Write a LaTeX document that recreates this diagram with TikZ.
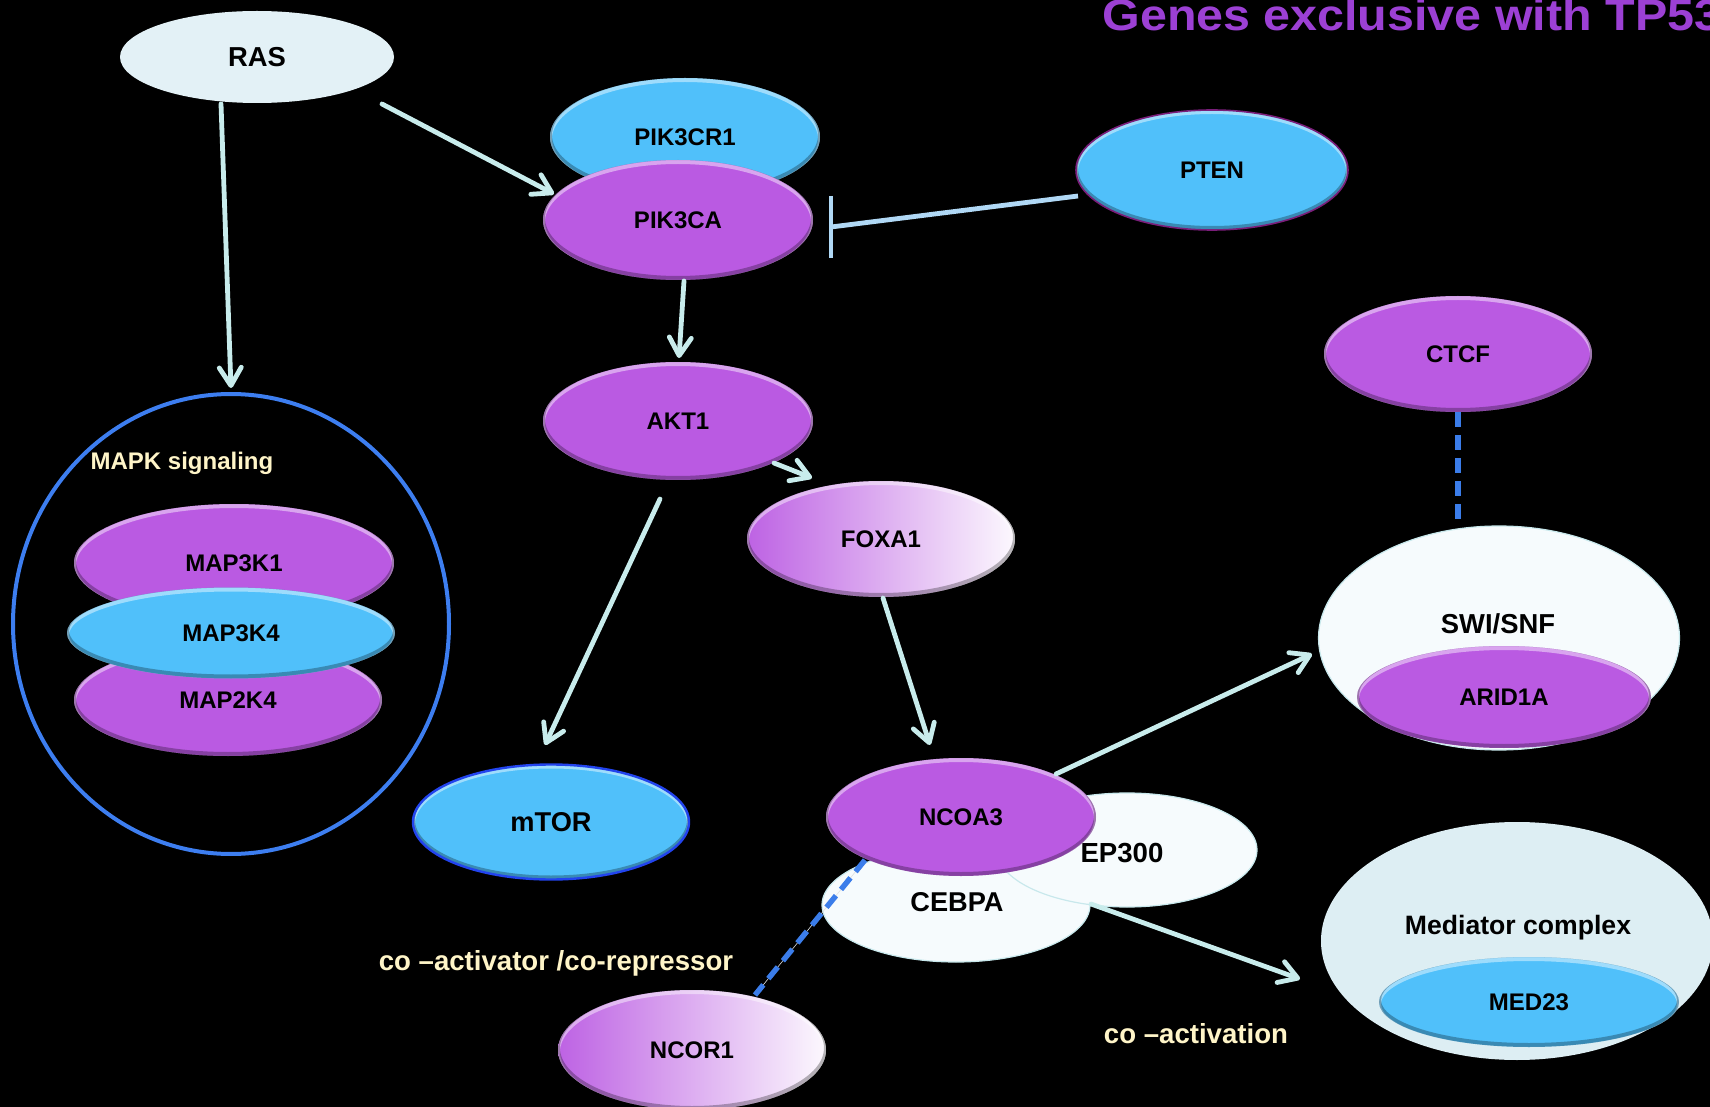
\documentclass[tikz,border=0pt]{standalone}
\usepackage{fontspec}
\setmainfont{Liberation Sans}
\usetikzlibrary{shapes.geometric,arrows.meta,calc}

\definecolor{purp}{RGB}{186,90,226}
\definecolor{blu}{RGB}{80,192,250}
\definecolor{rasfill}{RGB}{227,241,246}
\definecolor{whfill}{RGB}{246,251,253}
\definecolor{whedge}{RGB}{200,232,236}
\definecolor{medfill}{RGB}{221,238,243}
\definecolor{actc}{RGB}{200,236,236}
\definecolor{inhc}{RGB}{176,216,245}
\definecolor{dashblue}{RGB}{59,125,234}
\definecolor{mapkblue}{RGB}{61,126,240}
\definecolor{labyel}{RGB}{255,245,200}
\definecolor{titlec}{RGB}{156,64,212}
\definecolor{mtoredge}{RGB}{34,68,238}
\definecolor{ptenedge}{RGB}{122,30,122}

\tikzset{
  % light rim on top, soft shadow rim at the bottom
  bevel/.style={path picture={
    \draw[white, opacity=0.45, line width=2pt]
      let \p1=($(path picture bounding box.north east)-(path picture bounding box.center)$) in
      ([yshift=-1pt]path picture bounding box.center) ellipse [x radius=\x1, y radius=\y1];
    \draw[black, opacity=0.28, line width=2pt]
      let \p1=($(path picture bounding box.north east)-(path picture bounding box.center)$) in
      ([yshift=1pt]path picture bounding box.center) ellipse [x radius=\x1, y radius=\y1];
  }},
  sz/.style 2 args={minimum width=#1*0.5pt, minimum height=#2*0.5pt},
  gene/.style={ellipse, inner sep=0pt, text=black,
    font=\fontsize{12pt}{14pt}\selectfont\bfseries, bevel},
  pg/.style={gene, fill=purp},
  bl/.style={gene, fill=blu},
  fade/.style={gene, left color=purp!95!white, right color=white!96!purp},
  wh/.style={ellipse, inner sep=0pt, fill=whfill, draw=whedge, line width=0.6pt,
    text=black, font=\fontsize{13.6pt}{16pt}\selectfont\bfseries},
  act/.style={draw=actc, line width=2.4pt, line cap=round,
    -{Straight Barb[length=9pt,width=11pt,round]}},
  inh/.style={draw=inhc, line width=2.4pt},
  assoc/.style={draw=dashblue, line width=2.7pt, dash pattern=on 7.5pt off 4pt},
  lab/.style={text=labyel, inner sep=0pt,
    font=\fontsize{13.8pt}{16pt}\selectfont\bfseries},
}

\begin{document}
\begin{tikzpicture}[x=0.5pt,y=-0.5pt]
\fill[black] (0,0) rectangle (1710,1107);
\useasboundingbox (0,0) rectangle (1710,1107);
\clip (0,0) rectangle (1710,1107);

% title
\node[anchor=base west, inner sep=0pt, text=titlec, xscale=1.1,
  font=\fontsize{22pt}{25pt}\selectfont\bfseries] (title) at (1102,31) {Genes exclusive with TP53};

% MAPK signaling module
\node[ellipse, sz={436}{460}, draw=mapkblue, line width=2pt] (mapk) at (231,624) {};
\node[lab, font=\fontsize{12pt}{14pt}\selectfont\bfseries] (mapklab) at (182,463) {MAPK signaling};
\node[pg, sz={320}{118}] (MAP3K1) at (234,563) {MAP3K1};
\node[pg, sz={308}{112}] (MAP2K4) at (228,700) {MAP2K4};
\node[bl, sz={328}{91}] (MAP3K4) at (231,633) {MAP3K4};

% PI3K / AKT branch
\node[ellipse, inner sep=0pt, sz={274}{92}, fill=rasfill,
  font=\fontsize{13.7pt}{16pt}\selectfont\bfseries] (RAS) at (257,57) {RAS};
\node[bl, sz={270}{118}] (PIK3CR1) at (685,137) {PIK3CR1};
\node[pg, sz={270}{120}] (PIK3CA) at (678,220) {PIK3CA};
\node[bl, sz={272}{120}, draw=ptenedge, line width=0.8pt] (PTEN) at (1212,170) {PTEN};
\node[pg, sz={270}{118}] (AKT1) at (678,421) {AKT1};
\node[fade, sz={268}{116}] (FOXA1) at (881,539) {FOXA1};
\node[bl, sz={276}{115}, draw=mtoredge, line width=1.2pt,
  font=\fontsize{13.6pt}{16pt}\selectfont\bfseries] (mTOR) at (551,822) {mTOR};

% chromatin remodelling
\node[pg, sz={268}{116}] (CTCF) at (1458,354) {CTCF};
\node[wh, sz={361}{224}] (SWI) at (1499,638) {};
\node[text=black, inner sep=0pt, font=\fontsize{13.7pt}{16pt}\selectfont\bfseries] (SWIlab) at (1498,624) {SWI/SNF};
\node[pg, sz={294}{102}] (ARID1A) at (1504,697) {ARID1A};

% co-activator complex
\node[wh, sz={268}{114}] (CEBPA) at (956,905) {};
\node[text=black, inner sep=0pt, font=\fontsize{13.6pt}{16pt}\selectfont\bfseries] (CEBPAlab) at (957,902) {CEBPA};
\node[wh, sz={260}{114}] (EP300) at (1127,850) {};
\node[text=black, inner sep=0pt, font=\fontsize{13.8pt}{16pt}\selectfont\bfseries] (EP300lab) at (1122,853) {EP300};
\node[pg, sz={270}{118}] (NCOA3) at (961,817) {NCOA3};

% mediator complex
\node[ellipse, inner sep=0pt, sz={392}{238}, fill=medfill] (Med) at (1517,941) {};
\node[text=black, inner sep=0pt, font=\fontsize{13.3pt}{16pt}\selectfont\bfseries] (Medlab) at (1518,928) {Mediator complex};
\node[bl, sz={300}{90}] (MED23) at (1529,1002) {MED23};

\node[fade, sz={268}{120}] (NCOR1) at (692,1050) {NCOR1};

% side labels
\node[lab] (corep) at (556,963) {co –activator /co-repressor};
\node[lab] (coact) at (1196,1034) {co –activation};

% activating connectors
\draw[act] ($(RAS)+(-36,47)$) -- ($(mapk.north)+(0,-4)$);
\draw[act] ($(RAS)+(125,47)$) -- ($(PIK3CA)+(-124,-26)$);
\draw[act] ($(PIK3CA)+(6,61)$) -- ($(AKT1)+(1,-63)$);
\draw[act] ($(AKT1)+(96,42)$) -- ($(FOXA1)+(-69,-61)$);
\draw[act] ($(AKT1)+(-18,78)$) -- ($(mTOR)+(-6,-77)$);
\draw[act] ($(FOXA1)+(2,59)$) -- ($(NCOA3)+(-31,-72)$);
\draw[act] ($(NCOA3)+(95,-43)$) -- ($(SWI)+(-187,16)$);
\draw[act] ($(EP300)+(-36,54)$) -- ($(Med)+(-217,38)$);

% inhibition of PIK3CA by PTEN
\draw[inh] ($(PTEN)+(-134,26)$) -- ($(PIK3CA)+(153,7)$);
\draw[inh] ($(PIK3CA)+(153,-24)$) -- ($(PIK3CA)+(153,38)$);

% associations
\draw[assoc] (CTCF.south) -- (CTCF.south |- SWI.north);
\draw[white!75!gray, line width=0.3pt] ($(NCOA3)+(-96,43)$) -- ($(NCOR1)+(63,-55)$);
\draw[assoc] ($(NCOA3)+(-96,43)$) -- ($(NCOR1)+(63,-55)$);
\end{tikzpicture}
\end{document}
